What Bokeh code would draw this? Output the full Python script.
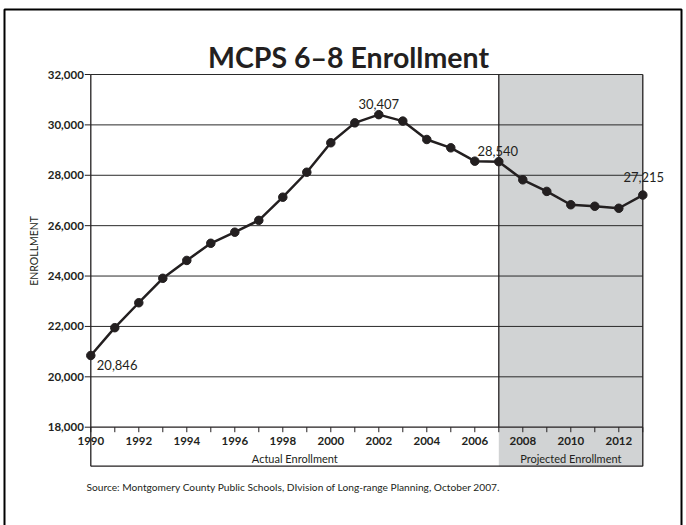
import math
from bokeh.plotting import figure
from bokeh.models import Label, Range1d
from bokeh.core.properties import value
from bokeh.embed import file_html
from bokeh.resources import INLINE

# ---------------- data ----------------
years = list(range(1990, 2014))
enrollment = [20846, 21950, 22940, 23910, 24620, 25300, 25740, 26210, 27130, 28120,
              29290, 30080, 30407, 30150, 29420, 29090, 28560, 28540, 27820, 27360,
              26830, 26770, 26690, 27215]
labeled_years = [1990, 2002, 2007, 2013]
y_ticks = list(range(18000, 32001, 2000))
x_ticks = list(range(1990, 2014))
x_labeled_ticks = list(range(1990, 2013, 2))
actual_span = [1990, 2007]
projected_span = [2007, 2013]
title_text = "MCPS 6–8 Enrollment"
y_axis_title = "ENROLLMENT"
section_labels = ["Actual Enrollment", "Projected Enrollment"]
source_note = "Source: Montgomery County Public Schools, DIvision of Long-range Planning, October 2007."

# ---------------- geometry / style ----------------
INK = "#231f20"
SHADE = "#d1d3d4"
FONT = "Lato"
W, H = 686, 525
X0, X1 = years[0], years[-1]
Y0, Y1 = y_ticks[0], y_ticks[-1]
PLOT_LEFT, PLOT_TOP = 90.3, 74.0          # canvas px of (X0, Y1)
PX_X = 24.0                               # px per year
PX_Y = 352.7 / (Y1 - Y0)                  # px per student


def dx(px):
    return px / PX_X


def dy(px):
    return px / PX_Y


x_lo = X0 - dx(PLOT_LEFT)
x_hi = x_lo + dx(W)
y_hi = Y1 + dy(PLOT_TOP)
y_lo = y_hi - dy(H)
BAND = dy(39)

p = figure(width=W, height=H, output_backend="svg", toolbar_location=None,
           x_range=Range1d(x_lo, x_hi), y_range=Range1d(y_lo, y_hi),
           x_axis_location=None, y_axis_location=None,
           min_border=0, min_border_left=0, min_border_right=0, min_border_top=0, min_border_bottom=0)
p.outline_line_color = None
p.background_fill_color = "white"
p.border_fill_color = "white"
p.grid.visible = False

# outer page frame (left, top, right sides)
p.multi_line(xs=[[x_lo + dx(4), x_lo + dx(4), x_lo + dx(681), x_lo + dx(681)]],
             ys=[[y_lo - dy(20), y_hi - dy(9), y_hi - dy(9), y_lo - dy(20)]],
             line_color="black", line_width=2)

# projected shading (plot area + label band)
p.quad(left=[projected_span[0]], right=[projected_span[1]], bottom=[Y0 - BAND], top=[Y1],
       fill_color=SHADE, line_color=None)

# horizontal grid lines
grid_y = y_ticks[1:]
p.segment(x0=[X0] * len(grid_y), x1=[X1] * len(grid_y), y0=grid_y, y1=grid_y,
          line_color="#2a2a2a", line_width=1)

# frame / band lines
p.segment(x0=[X0, X0, X1, projected_span[0], X0],
          x1=[X1, X0, X1, projected_span[0], X1],
          y0=[Y0, Y0 - BAND, Y0 - BAND, Y0, Y0 - BAND],
          y1=[Y0, Y1, Y1, Y1, Y0 - BAND],
          line_color=INK, line_width=1.3)

# y ticks and labels
p.segment(x0=[X0 - dx(6)] * len(y_ticks), x1=[X0] * len(y_ticks), y0=y_ticks, y1=y_ticks,
          line_color=INK, line_width=1)
p.text(x=[X0] * len(y_ticks), y=y_ticks, text=[f"{t:,}" for t in y_ticks],
       x_offset=-7, text_align="right", text_baseline="middle",
       text_font=value(FONT), text_font_style="bold", text_font_size="11.5px", text_color=INK)

# x ticks and labels
p.segment(x0=x_ticks, x1=x_ticks, y0=[Y0] * len(x_ticks), y1=[Y0 - dy(5)] * len(x_ticks),
          line_color=INK, line_width=1)
p.text(x=x_labeled_ticks, y=[Y0] * len(x_labeled_ticks), text=[str(t) for t in x_labeled_ticks],
       y_offset=14, text_align="center", text_baseline="middle",
       text_font=value(FONT), text_font_style="bold", text_font_size="11.5px", text_color=INK)

# axis title
p.add_layout(Label(x=X0 - dx(57), y=(Y0 + Y1) / 2, text=y_axis_title, angle=math.pi / 2,
                   text_font=FONT, text_font_size="10.5px", text_color=INK,
                   text_align="center", text_baseline="middle"))

# data line & points
p.line(years, enrollment, line_color=INK, line_width=2.5)
p.scatter(years, enrollment, size=8.5, fill_color=INK, line_color=INK)

# value labels (offsets in px, positive = up)
label_style = {
    1990: dict(x_offset=6, y_offset=-9.5, text_align="left", text_baseline="middle"),
    2002: dict(x_offset=0, y_offset=6, text_align="center", text_baseline="bottom"),
    2007: dict(x_offset=-1, y_offset=6, text_align="center", text_baseline="bottom"),
    2013: dict(x_offset=1, y_offset=13, text_align="center", text_baseline="bottom"),
}
for yr in labeled_years:
    v = enrollment[years.index(yr)]
    p.add_layout(Label(x=yr, y=v, text=f"{v:,}", text_font=FONT, text_font_size="13px",
                       text_color=INK, **label_style[yr]))

# band labels
for (a, b), txt in zip([actual_span, projected_span], section_labels):
    p.add_layout(Label(x=(a + b) / 2, y=Y0 - dy(31), text=txt, text_font=FONT,
                       text_font_size="11px", text_color=INK, text_align="center",
                       text_baseline="middle"))

# title
p.add_layout(Label(x=X0 + dx(257.7), y=Y1 + dy(18), text=title_text, text_font=FONT,
                   text_font_size="28.5px", text_font_style="bold", text_color=INK,
                   text_align="center", text_baseline="alphabetic"))

# source note
p.add_layout(Label(x=X0 - dx(4.3), y=Y0 - dy(60), text=source_note, text_font=FONT,
                   text_font_size="10.2px", text_color=INK, text_align="left",
                   text_baseline="middle"))

open("out.html", "w").write(file_html(p, INLINE))
